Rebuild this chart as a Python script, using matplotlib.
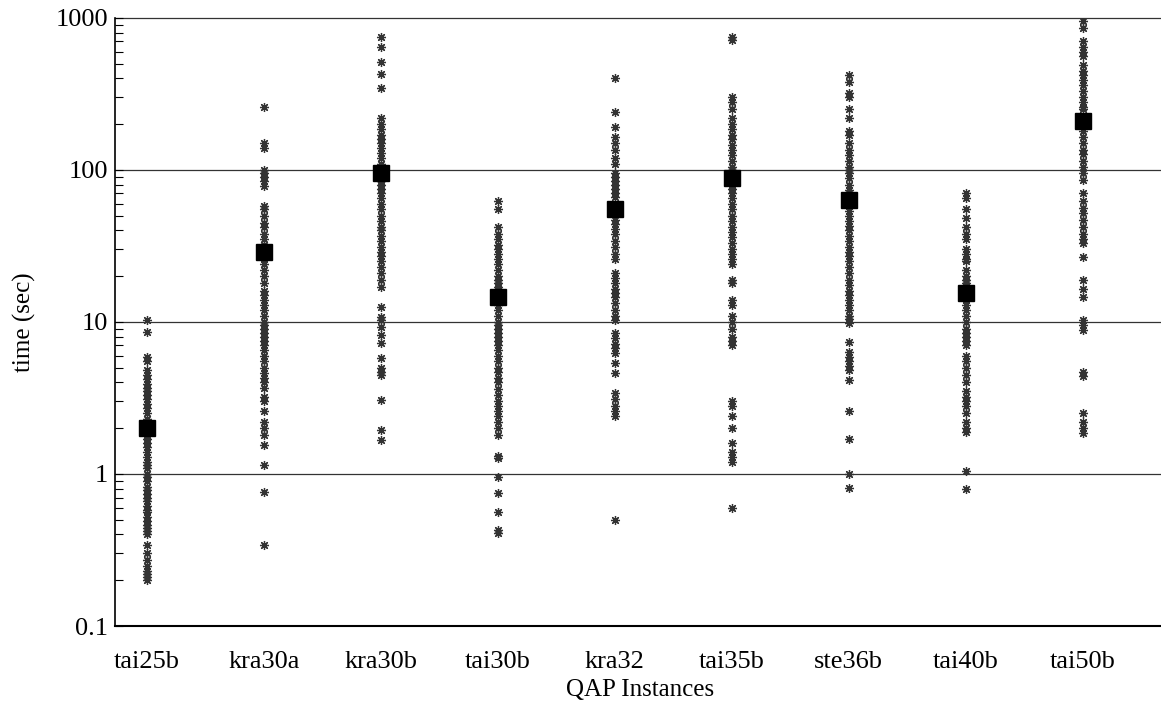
import numpy as np
import matplotlib.pyplot as plt

plt.rcParams['font.family'] = ['Liberation Serif', 'DejaVu Serif']

instances = ['tai25b', 'kra30a', 'kra30b', 'tai30b', 'kra32', 'tai35b', 'ste36b', 'tai40b', 'tai50b']

# mean run time per instance (big squares)
meanTimes = [2.0, 29, 95, 14.5, 55, 88, 63, 15.5, 210]

# individual run times (asterisks)
tai25b = [10.3, 8.6, 5.9, 5.5, 4.8, 4.5, 4.2, 3.9, 3.7, 3.5, 3.3, 3.1, 2.9, 2.7, 2.5, 2.3, 2.2,
          2.0, 1.9, 1.8, 1.7, 1.6, 1.5, 1.4, 1.3, 1.2, 1.15, 1.1, 1.0, 0.95, 0.9, 0.82, 0.78,
          0.74, 0.7, 0.66, 0.62, 0.58, 0.56, 0.52, 0.49, 0.46, 0.44, 0.42, 0.40, 0.34, 0.30,
          0.27, 0.25, 0.23, 0.22, 0.21, 0.20]
kra30a = [260, 150, 140, 100, 95, 90, 85, 78, 58, 55, 50, 45, 42, 38, 35, 32, 30, 28, 26, 24,
          22, 20, 18, 16, 15, 14, 13, 12, 11, 10, 9.5, 9, 8.5, 8, 7.5, 7, 6.5, 6, 5.5, 5, 4.6,
          4.3, 4.0, 3.7, 3.2, 3.0, 2.6, 2.2, 2.0, 1.8, 1.55, 1.15, 0.76, 0.34]
kra30b = [750, 640, 510, 430, 345, 220, 200, 185, 170, 160, 150, 140, 130, 120, 110, 105, 100,
          90, 85, 80, 75, 70, 65, 60, 55, 50, 46, 42, 40, 37, 34, 31, 29, 27, 25, 23, 21, 19,
          17, 12.5, 10.7, 10.3, 9.3, 8.2, 7.3, 5.8, 5.0, 4.7, 4.5, 3.07, 1.95, 1.67]
tai30b = [62, 55, 42, 38, 35, 32, 30, 28, 26, 24, 22, 20, 19, 18, 17, 16, 15, 14, 13, 12, 11,
          10, 9.5, 9, 8.5, 8, 7.5, 7, 6.5, 6, 5.5, 5, 4.7, 4.3, 4.0, 3.6, 3.3, 3.0, 2.8, 2.6,
          2.4, 2.2, 2.0, 1.8, 1.32, 1.28, 0.95, 0.75, 0.56, 0.43, 0.41]
kra32 = [400, 240, 190, 165, 150, 135, 120, 110, 95, 90, 85, 80, 75, 70, 66, 47, 44, 41, 38,
         34, 31, 28, 26, 21, 19.5, 18, 16.5, 15.5, 14.6, 13.3, 12, 11, 10.3, 8.5, 7.8, 7.2,
         6.7, 6.2, 5.4, 4.6, 3.4, 3.1, 2.8, 2.6, 2.4, 0.5]
tai35b = [750, 720, 300, 280, 250, 220, 200, 185, 170, 160, 145, 135, 125, 115, 105, 100, 95,
          85, 80, 75, 70, 65, 60, 55, 50, 46, 42, 39, 36, 33, 30, 28, 26, 24, 19, 18, 14, 13,
          11, 10, 9, 8, 7.5, 7, 3.0, 2.8, 2.4, 2.0, 1.6, 1.4, 1.3, 1.2, 0.6]
ste36b = [420, 380, 320, 300, 250, 220, 180, 170, 150, 135, 125, 115, 105, 100, 95, 88, 80,
          74, 70, 58, 54, 50, 46, 43, 40, 37, 34, 31, 29, 27, 25, 23, 21, 19, 17.5, 16, 15,
          14, 13, 12, 11, 10.5, 9.8, 7.4, 6.3, 5.9, 5.5, 5.1, 4.8, 4.15, 2.6, 1.7, 1.0, 0.81]
tai40b = [70, 65, 55, 48, 42, 38, 35, 30, 28, 26, 25, 22, 20, 19, 18, 17, 16, 15, 14, 13, 12,
          11, 10, 9, 8.5, 8, 7.5, 7, 6, 5.5, 5, 4.5, 4.0, 3.5, 3.2, 3.0, 2.8, 2.5, 2.2, 2.0,
          1.9, 1.05, 0.8]
tai50b = [960, 860, 700, 640, 600, 560, 490, 450, 420, 390, 360, 330, 300, 280, 260, 250, 180,
          165, 150, 135, 128, 115, 105, 95, 86, 70, 62, 56, 52, 47, 42, 38, 35, 33, 26.8, 19,
          16.5, 14.6, 10.3, 9.5, 8.9, 4.7, 4.4, 2.5, 2.2, 2.0, 1.86]

runTimes = [tai25b, kra30a, kra30b, tai30b, kra32, tai35b, ste36b, tai40b, tai50b]

fig = plt.figure(figsize=(11.61, 7.13), dpi=100)
ax = fig.add_axes([0.099, 0.122, 0.905, 0.853])

xPos = np.arange(1, len(instances) + 1)

for i, times in enumerate(runTimes):
    ax.plot(np.full(len(times), xPos[i]), times, linestyle='none', marker=(8, 2, 0),
            markersize=6.5, markeredgewidth=0.9, color='#333333', zorder=3)
ax.plot(xPos, meanTimes, linestyle='none', marker='s', markersize=12, color='black', zorder=4)

ax.set_yscale('log')
ax.set_ylim(0.1, 1000)
ax.set_xlim(0.725, 9.71)

for level in [1, 10, 100, 1000]:
    ax.axhline(level, color='#333333', lw=0.9, zorder=1, clip_on=False)

ax.set_xticks(xPos)
ax.set_xticklabels(instances, fontsize=19)
ax.set_yticks([0.1, 1, 10, 100, 1000])
ax.set_yticklabels(['0.1', '1', '10', '100', '1000'], fontsize=19)
ax.tick_params(axis='x', length=0, pad=18)
ax.tick_params(axis='y', which='both', direction='in', length=6, width=0.8, pad=5)

ax.spines['top'].set_visible(False)
ax.spines['right'].set_visible(False)
ax.spines['left'].set_linewidth(1.2)
ax.spines['bottom'].set_linewidth(1.5)

ax.set_xlabel('QAP Instances', fontsize=18, labelpad=4)
ax.set_ylabel('time (sec)', fontsize=18, labelpad=14)

plt.savefig('out.png', dpi=100)
